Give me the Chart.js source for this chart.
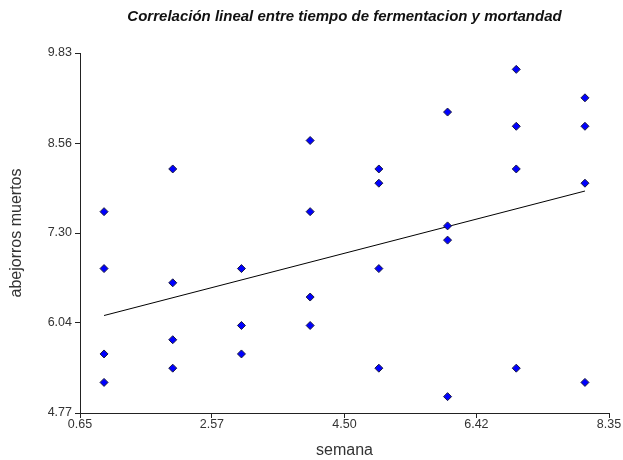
<!DOCTYPE html>
<html>
<head>
<meta charset="utf-8">
<script src="https://cdn.jsdelivr.net/npm/chart.js@4/dist/chart.umd.min.js"></script>
<style>
  html, body { margin: 0; padding: 0; background: #fff; }
  #wrap { width: 623px; height: 460px; }
</style>
</head>
<body>
<div id="wrap"><canvas id="chart"></canvas></div>
<script>
// semana (x) and abejorros muertos (y)
const weeks = [1, 1, 1, 1, 2, 2, 2, 2, 3, 3, 3, 4, 4, 4, 4, 5, 5, 5, 5, 6, 6, 6, 6, 7, 7, 7, 7, 8, 8, 8, 8];
const deaths = [7.6, 6.8, 5.6, 5.2, 8.2, 6.6, 5.8, 5.4, 6.8, 6.0, 5.6, 8.6, 7.6, 6.4, 6.0,
  8.2, 8.0, 6.8, 5.4, 9.0, 7.4, 7.2, 5.0, 9.6, 8.8, 8.2, 5.4, 9.2, 8.8, 8.0, 5.2];

// fitted line end points
const fitX = [1, 8];
const fitY = [6.14, 7.89];

const xTickLabels = ["0.65", "2.57", "4.50", "6.42", "8.35"];
const yTickLabels = ["4.77", "6.04", "7.30", "8.56", "9.83"];

const textColor = "#333";
const axisColor = "#222";

function fixedTicks(labels) {
  return function (scale) {
    scale.ticks = labels.map((l) => ({ value: parseFloat(l) }));
  };
}

const pointData = weeks.map((w, i) => ({ x: w, y: deaths[i] }));
const fitData = fitX.map((x, i) => ({ x: x, y: fitY[i] }));

new Chart(document.getElementById("chart"), {
  type: "scatter",
  data: {
    datasets: [
      {
        data: pointData,
        pointStyle: "rectRot",
        pointRadius: 4,
        pointBackgroundColor: "#0000ff",
        pointBorderColor: "#1a1a40",
        pointBorderWidth: 1,
        order: 1,
      },
      {
        data: fitData,
        showLine: true,
        borderColor: "#000",
        borderWidth: 1,
        pointRadius: 0,
        order: 2,
      },
    ],
  },
  options: {
    responsive: true,
    maintainAspectRatio: false,
    animation: false,
    layout: { padding: { left: 0, right: 14, top: 0, bottom: 0 } },
    plugins: {
      legend: { display: false },
      tooltip: { enabled: false },
      title: {
        display: true,
        fullSize: false,
        text: "Correlación lineal entre tiempo de fermentacion y mortandad",
        color: "#111",
        font: { family: "Liberation Sans, Arial", size: 15, style: "italic", weight: "bold" },
        padding: { top: 8, bottom: 27 },
      },
    },
    scales: {
      x: {
        type: "linear",
        min: 0.65,
        max: 8.35,
        afterBuildTicks: fixedTicks(xTickLabels),
        afterFit: (s) => { s.height = 47; },
        grid: { drawOnChartArea: false, drawTicks: true, tickLength: 5, color: axisColor },
        border: { display: true, color: axisColor, width: 1 },
        ticks: {
          color: textColor,
          padding: -1,
          maxRotation: 0,
          font: { family: "Liberation Sans, Arial", size: 12.5 },
          callback: (v, i) => xTickLabels[i],
        },
        title: {
          display: true,
          text: "semana",
          color: textColor,
          font: { family: "Liberation Sans, Arial", size: 16 },
          padding: { top: 0, bottom: 0 },
        },
      },
      y: {
        type: "linear",
        min: 4.77,
        max: 9.83,
        afterBuildTicks: fixedTicks(yTickLabels),
        afterFit: (s) => { s.width = 80; },
        grid: { drawOnChartArea: false, drawTicks: true, tickLength: 5, color: axisColor },
        border: { display: true, color: axisColor, width: 1 },
        ticks: {
          color: textColor,
          padding: 3,
          font: { family: "Liberation Sans, Arial", size: 12.5 },
          callback: (v, i) => yTickLabels[i],
        },
        title: {
          display: true,
          text: "abejorros muertos",
          color: textColor,
          font: { family: "Liberation Sans, Arial", size: 16 },
          padding: { top: 7, bottom: 0 },
        },
      },
    },
  },
});
</script>
</body>
</html>
